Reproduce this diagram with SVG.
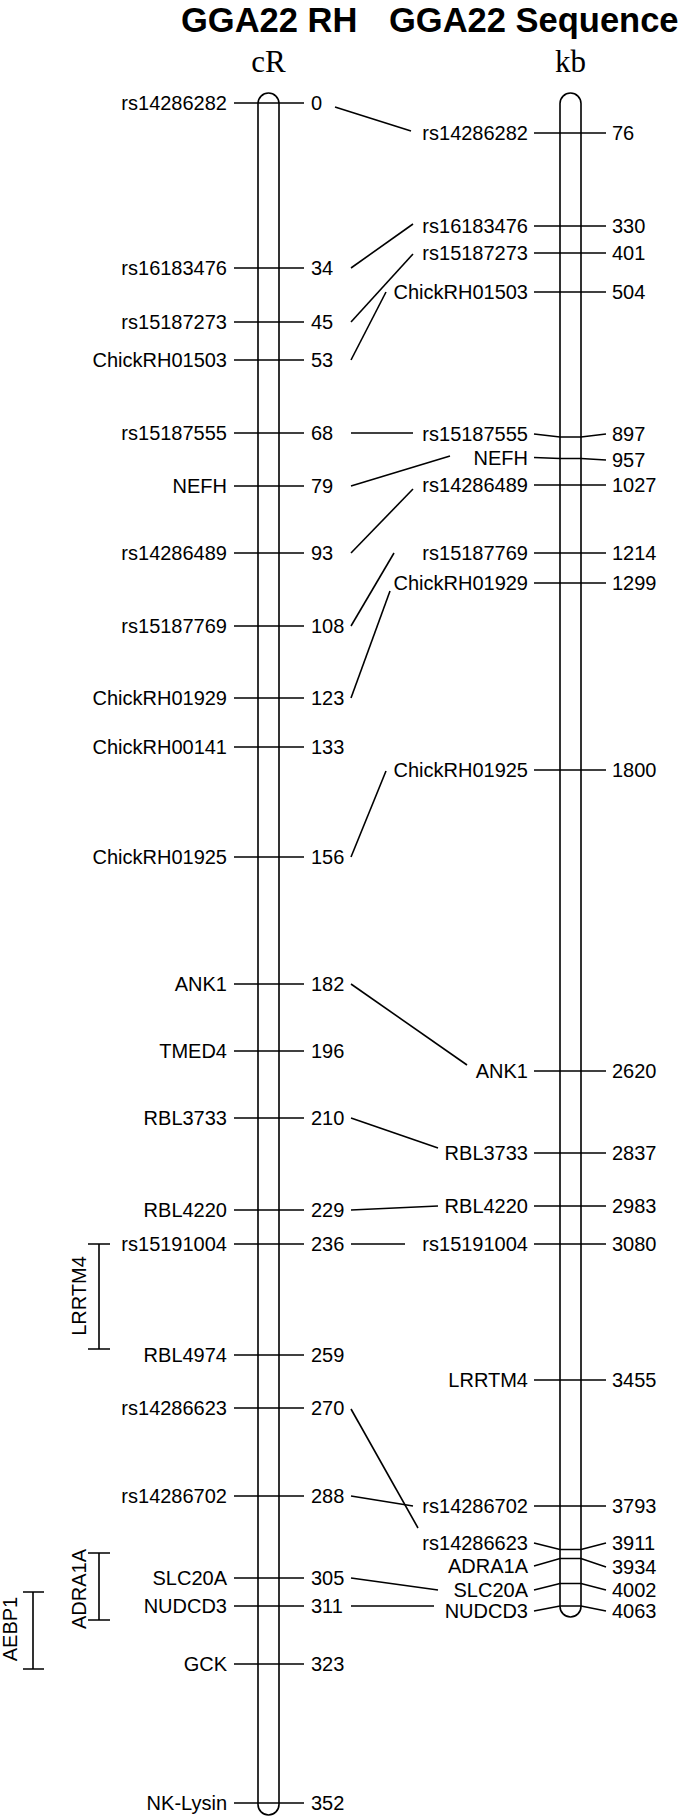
<svg xmlns="http://www.w3.org/2000/svg" width="685" height="1818" viewBox="0 0 685 1818">
<style>
text{font-family:"Liberation Sans",Arial,sans-serif;font-size:20px;fill:#000}
.t{font-weight:bold;font-size:34.5px}
.u{font-family:"Liberation Serif","Times New Roman",serif;font-size:31px;text-anchor:middle}
.e{text-anchor:end}
.m{text-anchor:middle}
line,path,.c{stroke:#000;stroke-width:1.6;fill:none}
</style>
<rect width="685" height="1818" fill="#fff"/>
<g id="titles">
<text class="t" x="181" y="32">GGA22 RH</text>
<text class="t" x="389" y="32">GGA22 Sequence</text>
<text class="u" x="268.5" y="72">cR</text>
<text class="u" x="570.5" y="72">kb</text>
</g>
<g id="chrom-rh"><rect class="c" x="258" y="93" width="21" height="1722" rx="10.5"/></g>
<g id="chrom-seq"><rect class="c" x="560" y="93" width="21" height="1524" rx="10.5"/></g>
<g id="rh-markers">
<g id="rh-0"><line x1="234" y1="103" x2="304" y2="103"/><text class="e" x="227" y="110">rs14286282</text><text x="311" y="110">0</text></g>
<g id="rh-34"><line x1="234" y1="268" x2="304" y2="268"/><text class="e" x="227" y="275">rs16183476</text><text x="311" y="275">34</text></g>
<g id="rh-45"><line x1="234" y1="322" x2="304" y2="322"/><text class="e" x="227" y="329">rs15187273</text><text x="311" y="329">45</text></g>
<g id="rh-53"><line x1="234" y1="360" x2="304" y2="360"/><text class="e" x="227" y="367">ChickRH01503</text><text x="311" y="367">53</text></g>
<g id="rh-68"><line x1="234" y1="433" x2="304" y2="433"/><text class="e" x="227" y="440">rs15187555</text><text x="311" y="440">68</text></g>
<g id="rh-79"><line x1="234" y1="486" x2="304" y2="486"/><text class="e" x="227" y="493">NEFH</text><text x="311" y="493">79</text></g>
<g id="rh-93"><line x1="234" y1="553" x2="304" y2="553"/><text class="e" x="227" y="560">rs14286489</text><text x="311" y="560">93</text></g>
<g id="rh-108"><line x1="234" y1="626" x2="304" y2="626"/><text class="e" x="227" y="633">rs15187769</text><text x="311" y="633">108</text></g>
<g id="rh-123"><line x1="234" y1="698" x2="304" y2="698"/><text class="e" x="227" y="705">ChickRH01929</text><text x="311" y="705">123</text></g>
<g id="rh-133"><line x1="234" y1="747" x2="304" y2="747"/><text class="e" x="227" y="754">ChickRH00141</text><text x="311" y="754">133</text></g>
<g id="rh-156"><line x1="234" y1="857" x2="304" y2="857"/><text class="e" x="227" y="864">ChickRH01925</text><text x="311" y="864">156</text></g>
<g id="rh-182"><line x1="234" y1="984" x2="304" y2="984"/><text class="e" x="227" y="991">ANK1</text><text x="311" y="991">182</text></g>
<g id="rh-196"><line x1="234" y1="1051" x2="304" y2="1051"/><text class="e" x="227" y="1058">TMED4</text><text x="311" y="1058">196</text></g>
<g id="rh-210"><line x1="234" y1="1118" x2="304" y2="1118"/><text class="e" x="227" y="1125">RBL3733</text><text x="311" y="1125">210</text></g>
<g id="rh-229"><line x1="234" y1="1210" x2="304" y2="1210"/><text class="e" x="227" y="1217">RBL4220</text><text x="311" y="1217">229</text></g>
<g id="rh-236"><line x1="234" y1="1244" x2="304" y2="1244"/><text class="e" x="227" y="1251">rs15191004</text><text x="311" y="1251">236</text></g>
<g id="rh-259"><line x1="234" y1="1355" x2="304" y2="1355"/><text class="e" x="227" y="1362">RBL4974</text><text x="311" y="1362">259</text></g>
<g id="rh-270"><line x1="234" y1="1408" x2="304" y2="1408"/><text class="e" x="227" y="1415">rs14286623</text><text x="311" y="1415">270</text></g>
<g id="rh-288"><line x1="234" y1="1496" x2="304" y2="1496"/><text class="e" x="227" y="1503">rs14286702</text><text x="311" y="1503">288</text></g>
<g id="rh-305"><line x1="234" y1="1578" x2="304" y2="1578"/><text class="e" x="227" y="1585">SLC20A</text><text x="311" y="1585">305</text></g>
<g id="rh-311"><line x1="234" y1="1606" x2="304" y2="1606"/><text class="e" x="227" y="1613">NUDCD3</text><text x="311" y="1613">311</text></g>
<g id="rh-323"><line x1="234" y1="1664" x2="304" y2="1664"/><text class="e" x="227" y="1671">GCK</text><text x="311" y="1671">323</text></g>
<g id="rh-352"><line x1="234" y1="1803" x2="304" y2="1803"/><text class="e" x="227" y="1810">NK-Lysin</text><text x="311" y="1810">352</text></g>
</g>
<g id="seq-markers">
<g id="seq-76"><line x1="534" y1="133" x2="606" y2="133"/><text class="e" x="528" y="140">rs14286282</text><text x="612" y="140">76</text></g>
<g id="seq-330"><line x1="534" y1="226" x2="606" y2="226"/><text class="e" x="528" y="233">rs16183476</text><text x="612" y="233">330</text></g>
<g id="seq-401"><line x1="534" y1="253" x2="606" y2="253"/><text class="e" x="528" y="260">rs15187273</text><text x="612" y="260">401</text></g>
<g id="seq-504"><line x1="534" y1="292" x2="606" y2="292"/><text class="e" x="528" y="299">ChickRH01503</text><text x="612" y="299">504</text></g>
<g id="seq-897"><path d="M534,434 L560,437 L581,437 L606,434"/><text class="e" x="528" y="441">rs15187555</text><text x="612" y="441">897</text></g>
<g id="seq-957"><path d="M534,457.5 L560,458.5 L581,458.5 L606,460"/><text class="e" x="528" y="464.5">NEFH</text><text x="612" y="467">957</text></g>
<g id="seq-1027"><line x1="534" y1="485" x2="606" y2="485"/><text class="e" x="528" y="492">rs14286489</text><text x="612" y="492">1027</text></g>
<g id="seq-1214"><line x1="534" y1="553" x2="606" y2="553"/><text class="e" x="528" y="560">rs15187769</text><text x="612" y="560">1214</text></g>
<g id="seq-1299"><line x1="534" y1="583" x2="606" y2="583"/><text class="e" x="528" y="590">ChickRH01929</text><text x="612" y="590">1299</text></g>
<g id="seq-1800"><line x1="534" y1="770" x2="606" y2="770"/><text class="e" x="528" y="777">ChickRH01925</text><text x="612" y="777">1800</text></g>
<g id="seq-2620"><line x1="534" y1="1071" x2="606" y2="1071"/><text class="e" x="528" y="1078">ANK1</text><text x="612" y="1078">2620</text></g>
<g id="seq-2837"><line x1="534" y1="1153" x2="606" y2="1153"/><text class="e" x="528" y="1160">RBL3733</text><text x="612" y="1160">2837</text></g>
<g id="seq-2983"><line x1="534" y1="1206" x2="606" y2="1206"/><text class="e" x="528" y="1213">RBL4220</text><text x="612" y="1213">2983</text></g>
<g id="seq-3080"><line x1="534" y1="1244" x2="606" y2="1244"/><text class="e" x="528" y="1251">rs15191004</text><text x="612" y="1251">3080</text></g>
<g id="seq-3455"><line x1="534" y1="1380" x2="606" y2="1380"/><text class="e" x="528" y="1387">LRRTM4</text><text x="612" y="1387">3455</text></g>
<g id="seq-3793"><line x1="534" y1="1506" x2="606" y2="1506"/><text class="e" x="528" y="1513">rs14286702</text><text x="612" y="1513">3793</text></g>
<g id="seq-3911"><path d="M534,1543 L560,1549.5 L581,1549.5 L606,1543"/><text class="e" x="528" y="1550">rs14286623</text><text x="612" y="1550">3911</text></g>
<g id="seq-3934"><path d="M534,1566 L560,1558.5 L581,1558.5 L606,1567"/><text class="e" x="528" y="1573">ADRA1A</text><text x="612" y="1574">3934</text></g>
<g id="seq-4002"><path d="M534,1590 L560,1583.5 L581,1583.5 L606,1590"/><text class="e" x="528" y="1597">SLC20A</text><text x="612" y="1597">4002</text></g>
<g id="seq-4063"><path d="M534,1611 L560,1606 L581,1606 L606,1611"/><text class="e" x="528" y="1618">NUDCD3</text><text x="612" y="1618">4063</text></g>
</g>
<g id="brackets">
<g id="br-lrrtm4"><path d="M88,1244 H110 M99,1244 V1349 M88,1349 H110"/><text class="m" transform="translate(85.5,1296) rotate(-90)">LRRTM4</text></g>
<g id="br-adra1a"><path d="M88,1553 H110 M99,1553 V1620 M88,1620 H110"/><text class="m" transform="translate(85.5,1589) rotate(-90)">ADRA1A</text></g>
<g id="br-aebp1"><path d="M23,1592 H44 M33,1592 V1669 M23,1669 H44"/><text class="m" transform="translate(16.5,1629) rotate(-90)">AEBP1</text></g>
</g>
<g id="connectors">
<line x1="335" y1="107" x2="411" y2="131"/>
<line x1="351" y1="268" x2="413" y2="224"/>
<line x1="351" y1="322" x2="413" y2="254"/>
<line x1="351" y1="360" x2="386" y2="292"/>
<line x1="351" y1="433" x2="413" y2="433"/>
<line x1="351" y1="486" x2="450" y2="456"/>
<line x1="351" y1="553" x2="413" y2="489"/>
<line x1="351" y1="626" x2="394" y2="553"/>
<line x1="351" y1="698" x2="390" y2="591"/>
<line x1="351" y1="857" x2="386" y2="771"/>
<line x1="351" y1="984" x2="467" y2="1065"/>
<line x1="351" y1="1118" x2="438" y2="1148"/>
<line x1="351" y1="1210" x2="438" y2="1206"/>
<line x1="351" y1="1244" x2="405" y2="1244"/>
<line x1="351" y1="1409" x2="418" y2="1528"/>
<line x1="351" y1="1496" x2="413" y2="1506"/>
<line x1="351" y1="1578" x2="438" y2="1590"/>
<line x1="351" y1="1606" x2="434" y2="1606"/>
</g>
</svg>
